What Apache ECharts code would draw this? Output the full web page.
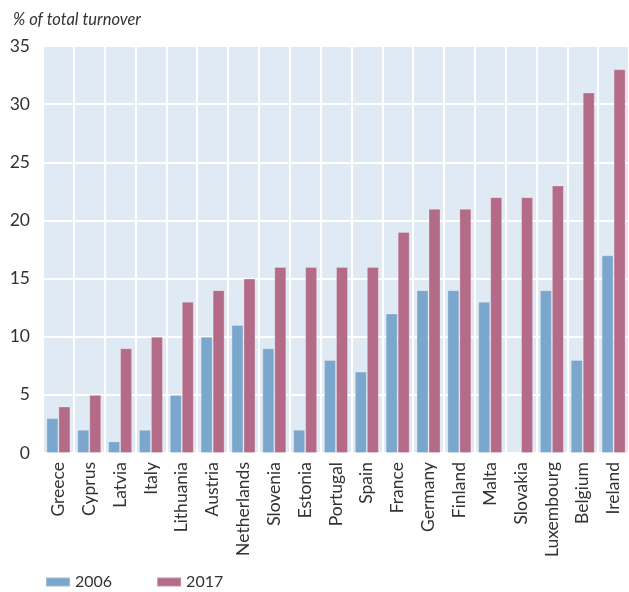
<!DOCTYPE html>
<html>
<head>
<meta charset="utf-8">
<script src="https://cdn.jsdelivr.net/npm/echarts@6/dist/echarts.min.js"></script>
<style>html,body{margin:0;padding:0;background:#fff}#main{width:629px;height:592px}</style>
</head>
<body>
<div id="main"></div>
<script>
var countries = ["Greece", "Cyprus", "Latvia", "Italy", "Lithuania", "Austria", "Netherlands", "Slovenia", "Estonia", "Portugal", "Spain", "France", "Germany", "Finland", "Malta", "Slovakia", "Luxembourg", "Belgium", "Ireland"];
var val2006 = [3, 2, 1, 2, 5, 10, 11, 9, 2, 8, 7, 12, 14, 14, 13, 0, 14, 8, 17];
var val2017 = [4, 5, 9, 10, 13, 14, 15, 16, 16, 16, 16, 19, 21, 21, 22, 22, 23, 31, 33];
var yTicks = [0, 5, 10, 15, 20, 25, 30, 35];

var myChart = echarts.init(document.getElementById('main'));
var fontName = 'Lato';
option = {
    backgroundColor: '#ffffff',
    animation: false,
    title: {
        text: '% of total turnover',
        left: 8,
        top: 6,
        textStyle: {
            fontFamily: fontName,
            fontStyle: 'italic',
            fontWeight: 'normal',
            fontSize: 16.5,
            color: '#333333'
        }
    },
    legend: {
        left: 40,
        top: 569,
        itemWidth: 24,
        itemHeight: 9,
        itemGap: 44,
        icon: 'rect',
        textStyle: {
            fontFamily: fontName,
            fontSize: 16,
            color: '#333333'
        },
        data: ['2006', '2017']
    },
    grid: {
        left: 43,
        right: 0,
        top: 46,
        bottom: 139,
        show: true,
        backgroundColor: '#dfeaf4',
        borderWidth: 0
    },
    xAxis: {
        type: 'category',
        data: countries,
        axisLine: { show: false },
        axisTick: { show: false },
        splitLine: {
            show: true,
            interval: 0,
            lineStyle: { color: '#ffffff', width: 2 }
        },
        axisLabel: {
            interval: 0,
            rotate: 90,
            margin: 9,
            fontFamily: fontName,
            fontSize: 17.5,
            color: '#333333'
        }
    },
    yAxis: {
        type: 'value',
        min: yTicks[0],
        max: yTicks[yTicks.length - 1],
        interval: 5,
        axisLine: { show: false },
        axisTick: { show: false },
        splitLine: {
            lineStyle: { color: '#ffffff', width: 2 }
        },
        axisLabel: {
            margin: 13,
            fontFamily: fontName,
            fontSize: 17.5,
            color: '#333333'
        }
    },
    series: [{
        name: '2006',
        type: 'bar',
        data: val2006,
        barWidth: 12,
        barGap: '0%',
        itemStyle: {
            color: '#7aa7cb',
            borderColor: 'rgba(255,255,255,0.25)',
            borderWidth: 1
        }
    }, {
        name: '2017',
        type: 'bar',
        data: val2017,
        barWidth: 12,
        barGap: '0%',
        itemStyle: {
            color: '#b46b88',
            borderColor: 'rgba(255,255,255,0.25)',
            borderWidth: 1
        }
    }]
};
myChart.setOption(option);
</script>
</body>
</html>
